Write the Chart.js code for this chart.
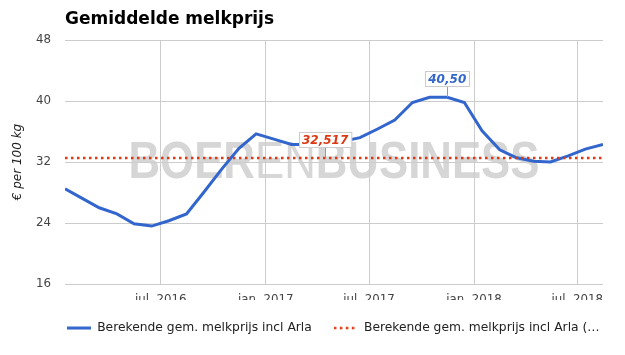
<!DOCTYPE html>
<html>
<head>
<meta charset="utf-8">
<title>Gemiddelde melkprijs</title>
<script src="https://cdn.jsdelivr.net/npm/chart.js@4.4.0/dist/chart.umd.min.js"></script>
<style>
  html, body { margin: 0; padding: 0; background: #fff; }
</style>
</head>
<body>
<canvas id="milkChart" width="625" height="355"></canvas>
<script>
// maandelijkse waarden (gemeten halverwege de maand)
const months = [
    "2016-01", "2016-02", "2016-03", "2016-04", "2016-05", "2016-06",
    "2016-07", "2016-08", "2016-09", "2016-10", "2016-11", "2016-12",
    "2017-01", "2017-02", "2017-03", "2017-04", "2017-05", "2017-06",
    "2017-07", "2017-08", "2017-09", "2017-10", "2017-11", "2017-12",
    "2018-01", "2018-02", "2018-03", "2018-04", "2018-05", "2018-06",
    "2018-07", "2018-08"
];
const prices = [
    28.5, 27.2, 26.0, 25.2, 23.9, 23.6,
    24.3, 25.2, 28.1, 31.0, 33.8, 35.7,
    35.0, 34.3, 34.3, 34.5, 34.7, 35.2,
    36.3, 37.5, 39.8, 40.5, 40.5, 39.8,
    36.1, 33.6, 32.6, 32.1, 32.0, 32.8,
    33.7, 34.3
];
const averagePrice = 32.517;

const seriesNames = [
    "Berekende gem. melkprijs incl Arla",
    "Berekende gem. melkprijs incl Arla (…"
];

const xTickDates = ["2016-07-01", "2017-01-01", "2017-07-01", "2018-01-01", "2018-07-01"];
const xTickLabels = ["jul. 2016", "jan. 2017", "jul. 2017", "jan. 2018", "jul. 2018"];
const yTicks = [16, 24, 32, 40, 48];

const blue = "#3366cc";
const red = "#dc3912";
const font = "DejaVu Sans";
const dots = [2.5, 3.5];

const toDay = (s) => {
    const [y, m, d] = s.split("-").map(Number);
    return Date.UTC(y, m - 1, d) / 86400000;
};
const xDays = months.map(m => toDay(m + "-15"));
const xTickDays = xTickDates.map(toDay);

const nl = (v, digits) => v.toFixed(digits).replace(".", ",");

// welke punten een label krijgen
const callouts = [
    { dataset: 1, month: "2017-04", text: nl(averagePrice, 3), color: red },
    { dataset: 0, month: "2017-11", text: nl(Math.max(...prices), 2), color: blue }
];

function legendLine(color, dash, width) {
    const c = document.createElement("canvas");
    c.width = 24;
    c.height = 4;
    const g = c.getContext("2d");
    g.strokeStyle = color;
    g.lineWidth = width;
    g.setLineDash(dash);
    g.beginPath();
    g.moveTo(0, 2);
    g.lineTo(24, 2);
    g.stroke();
    return c;
}

const watermark = {
    id: "watermark",
    beforeDraw(chart) {
        const { ctx, chartArea: ca } = chart;
        const parts = [["BOER", "bold"], ["EN", "normal"], ["BUSINESS", "bold"]];
        const size = 52;
        ctx.save();
        let total = 0;
        const widths = parts.map(([t, w]) => {
            ctx.font = `${w} ${size}px "Liberation Sans"`;
            const tw = ctx.measureText(t).width;
            total += tw;
            return tw;
        });
        const target = 411;
        const cx = (ca.left + ca.right) / 2;
        const base = (ca.top + ca.bottom) / 2 + 16;
        ctx.translate(cx - target / 2, base);
        ctx.scale(target / total, 1);
        ctx.fillStyle = "#d6d6d6";
        ctx.textBaseline = "alphabetic";
        let x = 0;
        parts.forEach(([t, w], i) => {
            ctx.font = `${w} ${size}px "Liberation Sans"`;
            ctx.fillText(t, x, 0);
            x += widths[i];
        });
        ctx.restore();
    }
};

const calloutPlugin = {
    id: "callouts",
    afterDatasetsDraw(chart) {
        const { ctx } = chart;
        ctx.save();
        ctx.font = `italic bold 12px "${font}"`;
        callouts.forEach(c => {
            const pt = chart.getDatasetMeta(c.dataset).data[months.indexOf(c.month)];
            const tw = ctx.measureText(c.text).width;
            const w = tw + 6, h = 15;
            const bottom = pt.y - 11.5;
            ctx.strokeStyle = "#999";
            ctx.lineWidth = 1;
            ctx.beginPath();
            ctx.moveTo(Math.round(pt.x) + 0.5, pt.y);
            ctx.lineTo(Math.round(pt.x) + 0.5, bottom);
            ctx.stroke();
            const left = Math.round(pt.x - w / 2) + 0.5;
            const top = Math.round(bottom - h) + 0.5;
            ctx.fillStyle = "#fff";
            ctx.fillRect(left, top, w, h);
            ctx.strokeStyle = "#cccccc";
            ctx.strokeRect(left, top, w, h);
            ctx.fillStyle = c.color;
            ctx.textAlign = "center";
            ctx.textBaseline = "middle";
            ctx.fillText(c.text, pt.x, top + h / 2 + 0.5);
        });
        ctx.restore();
    }
};

// legenda links laten beginnen onder de as, zonder af te breken
const legendShift = {
    id: "legendShift",
    afterLayout(chart) {
        chart.legend.left += 45;
        chart.legend.right += 45;
    }
};

new Chart(document.getElementById("milkChart"), {
    type: "line",
    data: {
        datasets: [{
            label: seriesNames[0],
            data: xDays.map((x, i) => ({ x, y: prices[i] })),
            borderColor: blue,
            backgroundColor: blue,
            borderWidth: 3,
            pointRadius: 0,
            pointStyle: legendLine(blue, [], 3),
            tension: 0,
            order: 1
        }, {
            label: seriesNames[1],
            data: xDays.map(x => ({ x, y: averagePrice })),
            borderColor: red,
            backgroundColor: red,
            borderWidth: 2.5,
            borderDash: dots,
            pointRadius: 0,
            pointStyle: legendLine(red, dots, 2.5),
            order: 0
        }]
    },
    options: {
        responsive: false,
        animation: false,
        devicePixelRatio: 1,
        layout: { padding: { left: 0, right: 22, top: 0, bottom: 10.8 } },
        plugins: {
            title: {
                display: true,
                text: "Gemiddelde melkprijs",
                align: "start",
                fullSize: false,
                color: "#000",
                font: { family: font, size: 17, weight: "bold" },
                padding: { top: 9.8, bottom: 9.8 }
            },
            legend: {
                position: "bottom",
                align: "start",
                labels: {
                    usePointStyle: true,
                    pointStyleWidth: 24,
                    padding: 22,
                    color: "#222",
                    font: { family: font, size: 12.3 },
                    sort: (a, b) => a.datasetIndex - b.datasetIndex
                }
            },
            tooltip: { enabled: false }
        },
        scales: {
            x: {
                type: "linear",
                min: xDays[0],
                max: xDays[xDays.length - 1],
                afterBuildTicks: s => { s.ticks = xTickDays.map(v => ({ value: v })); },
                afterFit: s => { s.height = 15.85; },
                ticks: {
                    autoSkip: false,
                    maxRotation: 0,
                    padding: 9,
                    color: "#444",
                    font: { family: font, size: 11.8 },
                    callback: (v, i) => xTickLabels[i]
                },
                grid: { color: "#cccccc", drawTicks: false },
                border: { display: false }
            },
            y: {
                min: yTicks[0],
                max: yTicks[yTicks.length - 1],
                afterBuildTicks: s => { s.ticks = yTicks.map(v => ({ value: v })); },
                afterFit: s => { s.width = 65; },
                ticks: {
                    padding: 14,
                    color: "#444",
                    font: { family: font, size: 11.8 },
                    callback: v => String(v)
                },
                grid: { color: "#cccccc", drawTicks: false },
                border: { display: false },
                title: {
                    display: true,
                    text: "€ per 100 kg",
                    color: "#222",
                    font: { family: font, size: 12, style: "italic" },
                    padding: { top: 11, bottom: 0 }
                }
            }
        }
    },
    plugins: [watermark, calloutPlugin, legendShift]
});
</script>
</body>
</html>
